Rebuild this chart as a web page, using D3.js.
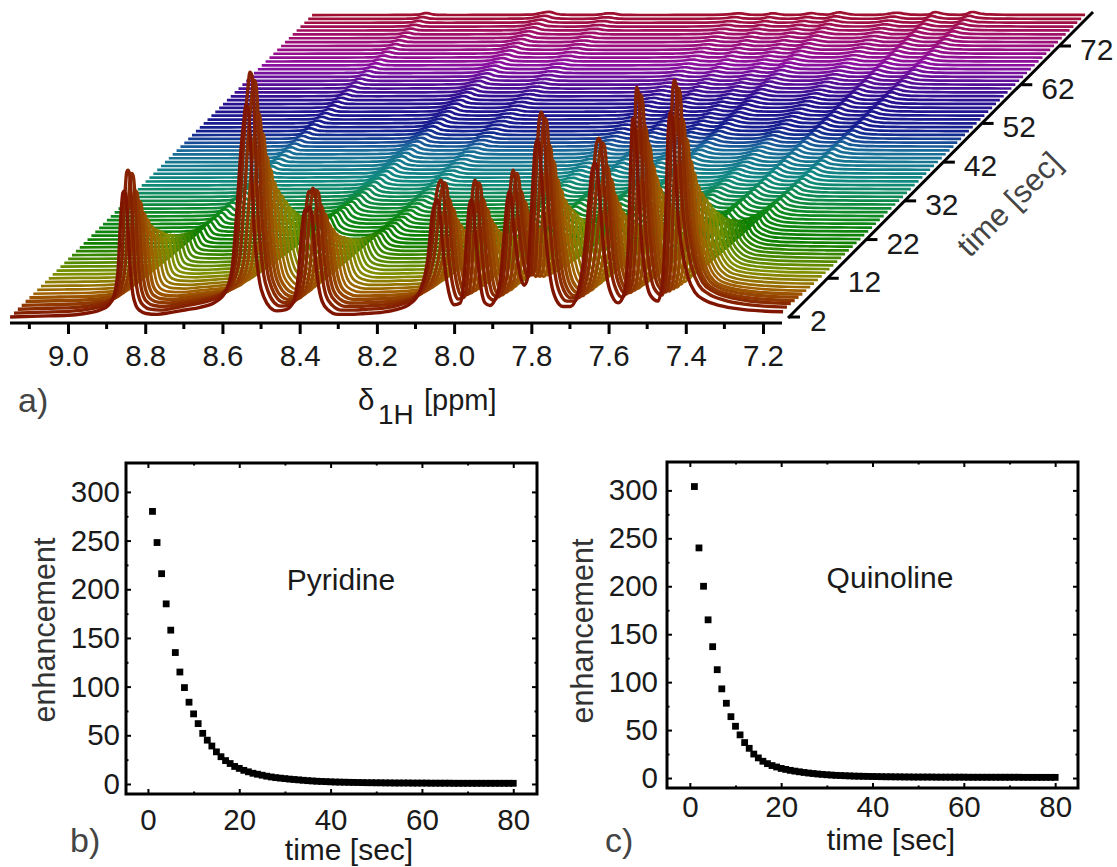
<!DOCTYPE html>
<html>
<head>
<meta charset="utf-8">
<title>Hyperpolarization decay</title>
<script src="https://d3js.org/d3.v7.min.js"></script>
<style>
html,body{margin:0;padding:0;background:#fff}
svg{display:block}
text{font-family:"Liberation Sans",Arial,sans-serif;fill:#1a1a1a}
</style>
</head>
<body>
<div id="chart"></div>
<script>
// proton spectrum
const spectrumPpm=[9.150,9.073,9.000,8.956,8.917,8.896,8.881,8.870,8.865,8.861,8.858,8.855,8.851,8.847,8.842,8.837,8.832,8.824,8.813,8.798,8.769,8.736,8.697,8.658,8.619,8.593,8.575,8.562,8.552,8.544,8.539,8.534,8.528,8.523,8.518,8.510,8.503,8.492,8.477,8.459,8.438,8.420,8.404,8.394,8.386,8.381,8.376,8.370,8.365,8.360,8.352,8.342,8.326,8.301,8.269,8.231,8.192,8.153,8.114,8.088,8.067,8.057,8.049,8.044,8.039,8.034,8.026,8.018,8.010,8.000,7.984,7.974,7.966,7.961,7.956,7.951,7.946,7.938,7.930,7.920,7.907,7.894,7.881,7.870,7.863,7.857,7.852,7.845,7.837,7.829,7.819,7.811,7.803,7.795,7.790,7.785,7.780,7.775,7.767,7.759,7.749,7.736,7.718,7.699,7.679,7.661,7.650,7.642,7.635,7.630,7.622,7.614,7.604,7.591,7.575,7.560,7.549,7.542,7.537,7.531,7.523,7.516,7.505,7.492,7.472,7.459,7.451,7.446,7.440,7.435,7.427,7.420,7.409,7.394,7.376,7.350,7.311,7.259,7.207,7.148]
const spectrumInt=[0,1,2,4,8,13,24,55,100,128,141,143,140,122,80,45,26,13,7,4,3,5,8,11,17,28,55,125,190,225,241,238,205,150,100,60,38,22,11,7,8,14,45,100,122,120,125,120,100,70,38,18,8,3,3,4,5,8,15,30,70,115,130,133,128,105,65,38,22,14,16,45,100,125,133,128,100,62,32,16,13,20,40,95,130,143,135,100,70,48,36,42,95,160,192,201,197,170,115,75,40,20,12,12,28,80,135,168,175,170,130,85,45,24,16,26,80,185,226,215,150,95,48,25,18,45,130,205,233,228,170,115,75,45,28,19,13,9,7,6]

// relative size of the spectrum at each time step, 2 s to 80 s
const stackScale=[.88,1,.95,.80,.70,.59,.52,.45,.40,.36,.32,.28,.25,.22,.19,.17,.15,.13,.115,.10,.09,.08,.072,.065,.058,.053,.049,.045,.042,.039,.036,.034,.032,.03,.029,.028,.027,.026,.025,.024,.024,.023,.023,.022,.022,.021,.021,.02,.02,.02,.019,.019,.018,.018,.018,.017,.017,.017,.016,.016,.016,.015,.015,.015,.015,.014,.014,.014,.014,.014,.013,.013,.013,.013,.013,.013,.013,.013,.013]

const colorSteps=[2,4,8,13,21,28,37,45,50,58,67,75,80]
const colorValues=["#7f1500","#8a2a00","#a06000","#7f8f00","#0f8000","#0f8a20","#108a80","#1a6a9a","#14208f","#2a1090","#8c10a0","#a0106a","#a01030"]

const ppmTicks=[9.0,8.8,8.6,8.4,8.2,8.0,7.8,7.6,7.4,7.2]
const ppmMinor=[9.1,8.9,8.7,8.5,8.3,8.1,7.9,7.7,7.5,7.3]
const timeTicks=[2,12,22,32,42,52,62,72]

const pyridine=[280,248,216,185,158,135,115,99,84,72,62,52,45,39,33,28,24,21,18,16,14,12.5,11,10,9,8,7.2,6.5,6,5.5,5,4.6,4.2,3.8,3.4,3.1,2.8,2.6,2.4,2.2,2,1.9,1.8,1.7,1.6,1.5,1.4,1.3,1.3,1.2,1.2,1.1,1.1,1,1,1,1,.9,.9,.9,.9,.8,.8,.8,.8,.8,.7,.7,.7,.7,.7,.7,.7,.7,.7,.7,.7,.7,.7,.7]
const quinoline=[304,240,200,165,137,113,93,78,64,54,45,37,31,25,21,17.5,15,13,11.5,10,9,8,7.2,6.5,5.8,5.2,4.7,4.2,3.8,3.4,3.1,2.8,2.6,2.4,2.2,2,1.9,1.8,1.7,1.6,1.5,1.4,1.3,1.3,1.2,1.2,1.1,1.1,1,1,1,1,1,.9,.9,.9,.9,.9,.9,.9,.8,.8,.8,.8,.8,.8,.8,.8,.8,.8,.8,.8,.7,.7,.7,.7,.7,.7,.7,.7]

const panelXTicks=[0,20,40,60,80]
const panelXMinor=[10,30,50,70]
const panelYTicks=[0,50,100,150,200,250,300]
const panelYMinor=[25,75,125,175,225,275]

const width=1117
const height=867

const svg=d3.select("#chart")
.append("svg")
.attr("width",width)
.attr("height",height)

// panel a
const xPpm=d3.scaleLinear().domain([9.0,7.2]).range([68,763])
const timeShift=d3.scaleLinear().domain([2,72]).range([0,271])
const intensity=d3.scaleLinear().domain([0,245]).range([0,245])
const traceColor=d3.scaleLinear().domain(colorSteps).range(colorValues)

const baseX=0
const baseY=317

const spectrum=spectrumPpm.map((p,i)=>({ppm:p,value:spectrumInt[i]}))

const traces=stackScale.map((s,i)=>({time:i+2,scale:s}))

const traceLayer=svg.append("g").attr("fill","none").attr("stroke-linejoin","round")

traceLayer.selectAll("path")
.data(traces.slice().reverse())
.enter()
.append("path")
.attr("stroke",d=>traceColor(d.time))
.attr("stroke-width",d=>d.time<8?3.4:2.7)
.attr("d",d=>{
const shift=timeShift(d.time)
return d3.line()
.x(p=>xPpm(p.ppm)+baseX+shift)
.y(p=>baseY-shift-intensity(p.value)*d.scale)
.curve(d3.curveMonotoneX)(spectrum)
})

const ppmAxis=d3.axisBottom(xPpm)
.tickValues(ppmTicks)
.tickSize(11)
.tickPadding(11)
.tickFormat(d3.format(".1f"))

const ppmAxisGroup=svg.append("g")
.attr("transform","translate(0,323)")
.call(ppmAxis)

ppmAxisGroup.select(".domain").remove()
ppmAxisGroup.append("line")
.attr("x1",10).attr("x2",782)
.attr("stroke","#000").attr("stroke-width",3)
ppmAxisGroup.selectAll("line").attr("stroke","#000").attr("stroke-width",3)
ppmAxisGroup.selectAll("text").attr("font-size",29.5).attr("font-family",null).attr("fill",null)

svg.append("g")
.attr("transform","translate(0,323)")
.selectAll("line")
.data(ppmMinor)
.enter()
.append("line")
.attr("x1",d=>xPpm(d)).attr("x2",d=>xPpm(d))
.attr("y1",0).attr("y2",6)
.attr("stroke","#000").attr("stroke-width",3)

// time axis runs along the stack at 45 degrees
const timeAxisX=789
const timeAxis=svg.append("g")

timeAxis.append("line")
.attr("x1",timeAxisX-1)
.attr("y1",baseY+1)
.attr("x2",timeAxisX+timeShift(80)+2)
.attr("y2",baseY-timeShift(80)-3)
.attr("stroke","#000").attr("stroke-width",3)

const timeTick=timeAxis.selectAll("g.tick")
.data(timeTicks)
.enter()
.append("g")
.attr("transform",d=>`translate(${timeAxisX+timeShift(d)},${baseY-timeShift(d)})`)

timeTick.append("line").attr("x1",0).attr("x2",11).attr("stroke","#000").attr("stroke-width",3)
timeTick.append("text").attr("x",d=>d<10?21:20).attr("y",14).attr("font-size",30).text(d=>d)

svg.append("text")
.attr("transform","translate(1009,204) rotate(-45)")
.attr("text-anchor","middle")
.attr("dy","0.35em")
.attr("font-size",31)
.style("fill","#444")
.text("time [sec]")

svg.append("text").attr("x",18).attr("y",412).attr("font-size",34).style("fill","#444").text("a)")
svg.append("text").attr("x",358).attr("y",410).attr("font-size",29.5).text("δ")
svg.append("text").attr("x",378).attr("y",424).attr("font-size",28).text("1H")
svg.append("text").attr("x",424).attr("y",410).attr("font-size",29).text("[ppm]")

// panels b and c
function drawPanel(o){

const x=d3.scaleLinear().domain(o.xDomain).range([o.left,o.right])
const y=d3.scaleLinear().domain(o.yDomain).range([o.bottom,o.top])
const g=svg.append("g")

const sides=[
{axis:d3.axisBottom(x),at:`translate(0,${o.bottom})`,major:panelXTicks,minor:panelXMinor,labels:true,pad:o.xPad},
{axis:d3.axisTop(x),at:`translate(0,${o.top})`,major:panelXTicks,minor:panelXMinor,labels:false,pad:0},
{axis:d3.axisLeft(y),at:`translate(${o.left},0)`,major:panelYTicks,minor:panelYMinor,labels:true,pad:o.yPad},
{axis:d3.axisRight(y),at:`translate(${o.right},0)`,major:panelYTicks,minor:panelYMinor,labels:false,pad:0}
]

sides.forEach(s=>{

const gMinor=g.append("g").attr("transform",s.at)
.call(s.axis.tickValues(s.minor).tickSizeInner(-2.5).tickSizeOuter(0).tickFormat(""))
gMinor.select(".domain").remove()
gMinor.selectAll("line").attr("stroke","#000").attr("stroke-width",2)

const gMajor=g.append("g").attr("transform",s.at)
.call(s.axis.tickValues(s.major).tickSizeInner(-5).tickSizeOuter(0).tickPadding(s.pad).tickFormat(s.labels?d3.format("d"):""))
gMajor.select(".domain").remove()
gMajor.selectAll("line").attr("stroke","#000").attr("stroke-width",2)
gMajor.selectAll("text").attr("font-size",29.5).attr("font-family",null).attr("fill",null)

})

g.append("rect")
.attr("x",o.left).attr("y",o.top)
.attr("width",o.right-o.left).attr("height",o.bottom-o.top)
.attr("fill","none").attr("stroke","#000").attr("stroke-width",3)

g.append("g")
.selectAll("rect")
.data(o.values)
.enter()
.append("rect")
.attr("x",(d,i)=>x(i+1)-3.4)
.attr("y",d=>y(d)-3.4)
.attr("width",6.8).attr("height",6.8)
.attr("fill","#000")

g.append("text")
.attr("x",o.nameX).attr("y",o.nameY)
.attr("text-anchor","middle")
.attr("font-size",30)
.text(o.name)

g.append("text")
.attr("x",o.timeX).attr("y",o.timeY)
.attr("text-anchor","middle")
.attr("font-size",30)
.text("time [sec]")

g.append("text")
.attr("transform",`translate(${o.enhX},${o.enhY}) rotate(-90)`)
.attr("text-anchor","middle")
.attr("font-size",30.5)
.style("fill","#333")
.text("enhancement")

g.append("text")
.attr("x",o.tagX).attr("y",852)
.attr("font-size",34)
.style("fill","#444")
.text(o.tag)

}

drawPanel({
values:pyridine,name:"Pyridine",tag:"b)",
left:126,right:537,top:463,bottom:794,
xDomain:[-4.8,85.2],yDomain:[-10.3,329.7],
xPad:15,yPad:6,
nameX:341,nameY:590,timeX:349,timeY:860,enhX:55,enhY:630,tagX:70
})

drawPanel({
values:quinoline,name:"Quinoline",tag:"c)",
left:667,right:1078,top:462,bottom:788,
xDomain:[-5,85],yDomain:[-10.4,329.6],
xPad:8,yPad:9,
nameX:890,nameY:588,timeX:891,timeY:850,enhX:593,enhY:631,tagX:605
})
</script>
</body>
</html>
